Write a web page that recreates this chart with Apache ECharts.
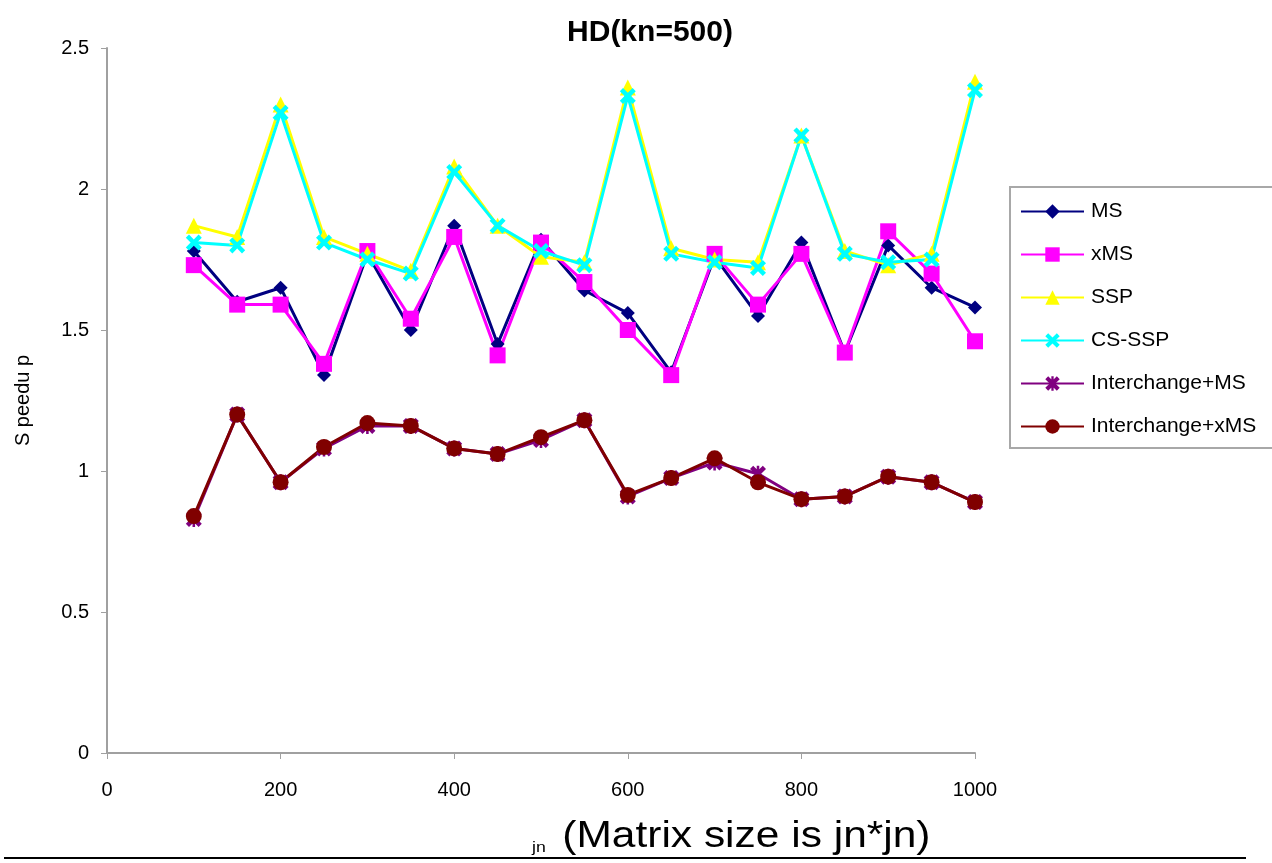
<!DOCTYPE html>
<html>
<head>
<meta charset="utf-8">
<title>HD(kn=500)</title>
<script src="https://cdn.jsdelivr.net/npm/echarts@6/dist/echarts.min.js"></script>
<style>
  html, body { margin: 0; padding: 0; background: #fff; }
  #chart { width: 1272px; height: 863px; }
</style>
</head>
<body>
<div id="chart"></div>
<script>
// Matrix dimension jn (matrix is jn*jn)
const jn = [100, 150, 200, 250, 300, 350, 400, 450, 500, 550, 600, 650, 700, 750, 800, 850, 900, 950, 1000];

// Speedup for each method
const msSpeedup = [1.78, 1.60, 1.65, 1.34, 1.77, 1.50, 1.87, 1.45, 1.82, 1.64, 1.56, 1.35, 1.76, 1.55, 1.81, 1.42, 1.80, 1.65, 1.58];
const xmsSpeedup = [1.73, 1.59, 1.59, 1.38, 1.78, 1.54, 1.83, 1.41, 1.81, 1.67, 1.50, 1.34, 1.77, 1.59, 1.77, 1.42, 1.85, 1.70, 1.46];
const sspSpeedup = [1.87, 1.83, 2.30, 1.83, 1.77, 1.71, 2.08, 1.87, 1.76, 1.74, 2.36, 1.79, 1.75, 1.74, 2.19, 1.78, 1.73, 1.77, 2.38];
const csSspSpeedup = [1.81, 1.80, 2.27, 1.81, 1.75, 1.70, 2.06, 1.87, 1.78, 1.73, 2.33, 1.77, 1.74, 1.72, 2.19, 1.77, 1.74, 1.75, 2.35];
const interMsSpeedup = [0.83, 1.20, 0.96, 1.08, 1.16, 1.16, 1.08, 1.06, 1.11, 1.18, 0.91, 0.975, 1.03, 0.99, 0.90, 0.91, 0.98, 0.96, 0.89];
const interXmsSpeedup = [0.84, 1.20, 0.96, 1.085, 1.17, 1.16, 1.08, 1.06, 1.12, 1.18, 0.915, 0.975, 1.045, 0.96, 0.90, 0.91, 0.98, 0.96, 0.89];

const seriesNames = ['MS', 'xMS', 'SSP', 'CS-SSP', 'Interchange+MS', 'Interchange+xMS'];

// Axis ticks
const xTicks = [0, 200, 400, 600, 800, 1000];
const yTicks = [0, 0.5, 1, 1.5, 2, 2.5];

const FONT = "'Liberation Sans', Arial, sans-serif";

// Marker shapes
const crossPath = 'path://M2,0 L5,3 L8,0 L10,2 L7,5 L10,8 L8,10 L5,7 L2,10 L0,8 L3,5 L0,2 Z';
const asteriskPath = 'path://M2,0 L5,3 L8,0 L10,2 L7,5 L10,8 L8,10 L5,7 L2,10 L0,8 L3,5 L0,2 Z M4.2,0 L5.8,0 L5.8,10 L4.2,10 Z';

function pairs(values) {
  return jn.map((x, i) => [x, values[i]]);
}

function lineSeries(name, values, color, symbol, size) {
  return {
    name: name,
    type: 'line',
    data: pairs(values),
    symbol: symbol,
    symbolSize: size,
    showAllSymbol: true,
    lineStyle: { color: color, width: 3 },
    itemStyle: { color: color, borderColor: color, borderWidth: 0 },
    emphasis: { disabled: true },
    animation: false
  };
}

const chart = echarts.init(document.getElementById('chart'), null, { renderer: 'canvas' });

chart.setOption({
  backgroundColor: '#ffffff',
  animation: false,
  title: {
    text: 'HD(kn=500)',
    left: 645,
    textAlign: 'center',
    top: 13,
    textStyle: { fontFamily: FONT, fontSize: 30, fontWeight: 'bold', color: '#000' }
  },
  grid: { left: 107, right: 297, top: 48, bottom: 110, containLabel: false },
  legend: {
    orient: 'vertical',
    left: 1010,
    top: 187,
    padding: [14, 60, 11, 10],
    itemGap: 22,
    itemWidth: 63,
    itemHeight: 18,
    borderColor: '#a8a8a8',
    borderWidth: 2,
    data: seriesNames,
    textStyle: { fontFamily: FONT, fontSize: 21, color: '#000', padding: [0, 0, 0, 2] }
  },
  xAxis: {
    type: 'value',
    min: xTicks[0],
    max: xTicks[xTicks.length - 1],
    interval: xTicks[1] - xTicks[0],
    splitLine: { show: false },
    axisLine: { lineStyle: { color: '#a0a0a0', width: 2 } },
    axisTick: { show: true, length: 6, lineStyle: { color: '#a0a0a0', width: 1 } },
    axisLabel: { margin: 27, fontFamily: FONT, fontSize: 20, color: '#000', formatter: v => String(v) }
  },
  yAxis: {
    type: 'value',
    min: yTicks[0],
    max: yTicks[yTicks.length - 1],
    interval: yTicks[1] - yTicks[0],
    splitLine: { show: false },
    axisLine: { show: true, lineStyle: { color: '#a0a0a0', width: 2 } },
    axisTick: { show: true, length: 6, lineStyle: { color: '#a0a0a0', width: 1 } },
    axisLabel: { margin: 18, fontFamily: FONT, fontSize: 20, color: '#000', formatter: v => String(v) },
    name: 'S peedu p',
    nameLocation: 'middle',
    nameRotate: 90,
    nameGap: 74,
    nameTextStyle: { fontFamily: FONT, fontSize: 20, color: '#000' }
  },
  graphic: [
    {
      type: 'text',
      x: 532,
      y: 819,
      scaleX: 1.18,
      style: {
        text: '{s|jn}{b|(Matrix size is jn*jn)}',
        rich: {
          s: { fontFamily: FONT, fontSize: 15, color: '#000', verticalAlign: 'bottom', padding: [0, 14, 0, 0] },
          b: { fontFamily: FONT, fontSize: 36, color: '#000' }
        }
      }
    },
    {
      type: 'line',
      shape: { x1: 4, y1: 858, x2: 1246, y2: 858 },
      style: { stroke: '#000', lineWidth: 2 }
    }
  ],
  series: [
    lineSeries('MS', msSpeedup, '#000080', 'diamond', 14),
    lineSeries('xMS', xmsSpeedup, '#ff00ff', 'rect', 16),
    lineSeries('SSP', sspSpeedup, '#ffff00', 'triangle', 16),
    lineSeries('CS-SSP', csSspSpeedup, '#00ffff', crossPath, 16),
    lineSeries('Interchange+MS', interMsSpeedup, '#800080', asteriskPath, 16),
    lineSeries('Interchange+xMS', interXmsSpeedup, '#800000', 'circle', 16)
  ]
});
</script>
</body>
</html>
